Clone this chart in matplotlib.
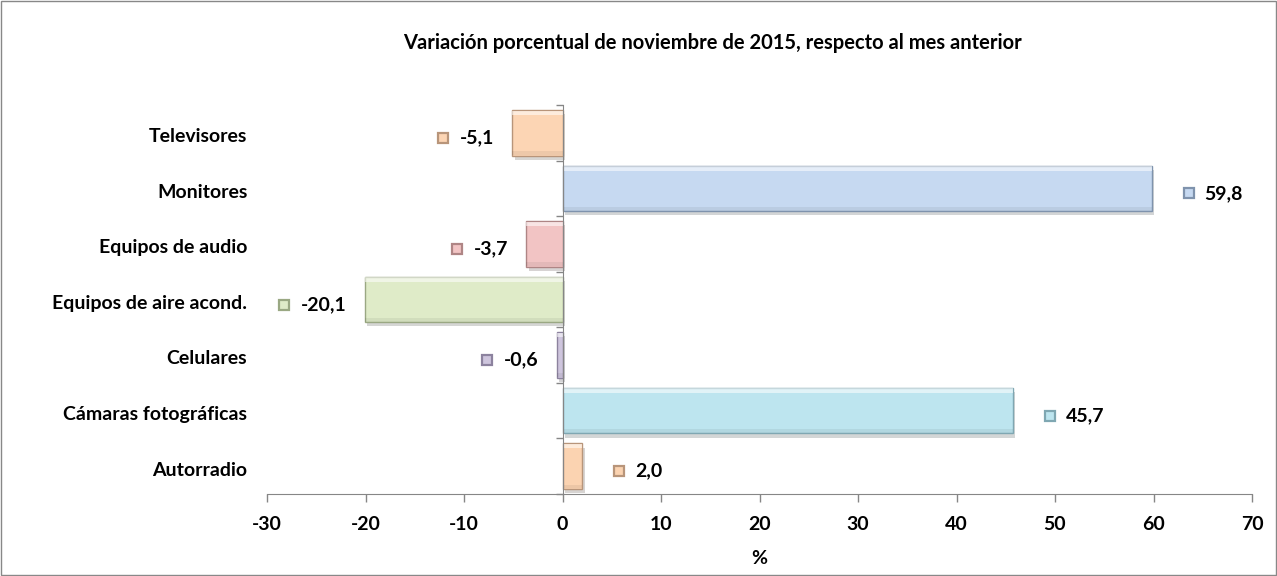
import numpy as np
import matplotlib.pyplot as plt
from matplotlib import patheffects as pe
from matplotlib import transforms as mtransforms

plt.rcParams['font.family'] = ['Lato', 'DejaVu Sans']
plt.rcParams['font.weight'] = 'bold'
plt.rcParams['axes.unicode_minus'] = False

categorias = ['Televisores', 'Monitores', 'Equipos de audio', 'Equipos de aire acond.',
              'Celulares', 'Cámaras fotográficas', 'Autorradio']
valores = [-5.1, 59.8, -3.7, -20.1, -0.6, 45.7, 2.0]
colores = ['#FCD5B4', '#C6D9F1', '#F2C4C4', '#DFEBC8', '#CEC5DD', '#BDE5EF', '#FBD3B1']
bordes = ['#B8957A', '#7F93AD', '#AF8585', '#9AA883', '#8C829E', '#7FA7B2', '#B8957A']
etiquetas = ['-5,1', '59,8', '-3,7', '-20,1', '-0,6', '45,7', '2,0']

fig = plt.figure(figsize=(12.77, 5.76), dpi=100)
ax = fig.add_axes([267 / 1277, 1 - 494 / 576, 985 / 1277, 389 / 576])

# borde del grafico
fig.patches.append(plt.Rectangle((0.001, 0.002), 0.998, 0.996, transform=fig.transFigure,
                                 fill=False, edgecolor='#888888', linewidth=1))

y = np.arange(len(categorias))[::-1]
barras = ax.barh(y, valores, height=0.82, color=colores, edgecolor=bordes, linewidth=1.0,
                 zorder=3)
for b in barras:
    b.set_path_effects([pe.SimplePatchShadow(offset=(2, -3), alpha=0.22), pe.Normal()])

# efecto bisel: franja clara arriba, oscura abajo
ax.barh(y + 0.36, valores, height=0.08, color='white', alpha=0.55, linewidth=0, zorder=4)
ax.barh(y - 0.365, valores, height=0.07, color='black', alpha=0.06, linewidth=0, zorder=4)

ax.set_xlim(-30, 70)
ax.set_ylim(-0.5, len(categorias) - 0.5)
ax.set_xticks(np.arange(-30, 71, 10))
ax.tick_params(axis='x', length=6, width=1, color='#868686', labelsize=14, pad=10)
for lbl in ax.get_xticklabels():
    lbl.set_fontweight('bold')
ax.set_xlabel('%', fontsize=14, fontweight='bold', labelpad=12)

for s in ['top', 'right']:
    ax.spines[s].set_visible(False)
ax.spines['bottom'].set_color('#868686')
ax.spines['left'].set_position(('data', 0))
ax.spines['left'].set_color('#868686')
ax.spines['left'].set_zorder(5)
ax.set_yticks([])
ax.set_yticks(np.arange(-0.5, len(categorias), 1), minor=True)
ax.tick_params(axis='y', which='minor', length=5, width=1, color='#868686', direction='out')
ax.yaxis.set_minor_formatter(plt.NullFormatter())

trans = mtransforms.blended_transform_factory(ax.transAxes, ax.transData)
for yi, cat in zip(y, categorias):
    ax.text(-0.02, yi - 0.07, cat, transform=trans, ha='right', va='center',
            fontsize=14, fontweight='bold')

fig.text(712 / 1277, 1 - 43 / 576,
         'Variación porcentual de noviembre de 2015, respecto al mes anterior',
         fontsize=14.5, fontweight='bold', ha='center', va='center')

# etiquetas de datos con marcador de leyenda
fig.canvas.draw()
rend = fig.canvas.get_renderer()
px_to_data = 100 / 985
for yi, v, txt, c, e in zip(y, valores, etiquetas, colores, bordes):
    yl = yi - 0.09
    if v >= 0:
        ax.plot(v + 37 * px_to_data, yl, marker='s', markersize=7.5, color=c,
                markeredgecolor=e, markeredgewidth=1.6, zorder=5)
        ax.text(v + 53 * px_to_data, yl, txt, ha='left', va='center', fontsize=14,
                fontweight='bold')
    else:
        t = ax.text(v - 18 * px_to_data, yl, txt, ha='right', va='center', fontsize=14,
                    fontweight='bold')
        w = t.get_window_extent(rend).width
        ax.plot(v - (18 + w + 17) * px_to_data, yl, marker='s', markersize=7.5, color=c,
                markeredgecolor=e, markeredgewidth=1.6, zorder=5)

fig.savefig('out.png', dpi=100)
